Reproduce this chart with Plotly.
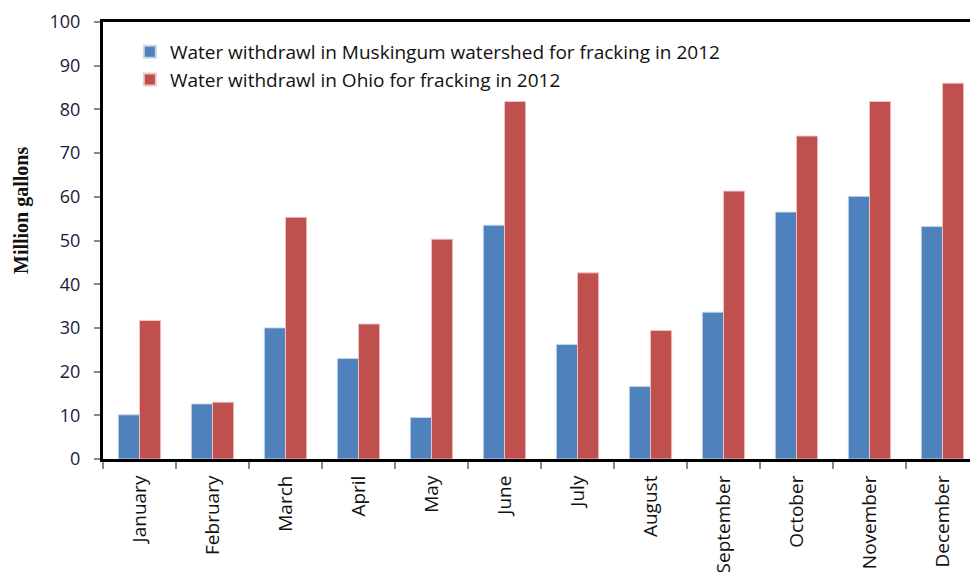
import plotly.graph_objects as go

months = ["January", "February", "March", "April", "May", "June", "July",
          "August", "September", "October", "November", "December"]
muskingum = [10.1, 12.6, 30.0, 23.0, 9.5, 53.5, 26.2, 16.6, 33.6, 56.5, 60.1, 53.2]
ohio = [31.7, 13.0, 55.3, 30.9, 50.3, 81.8, 42.6, 29.4, 61.3, 73.9, 81.8, 86.0]
yticks = [0, 10, 20, 30, 40, 50, 60, 70, 80, 90, 100]

FONT = "Open Sans, Lato, sans-serif"

fig = go.Figure()
fig.add_trace(go.Bar(x=months, y=muskingum,
                     name="Water withdrawl in Muskingum watershed for fracking in 2012",
                     marker=dict(color="#4F81BD", line=dict(color="rgba(200,215,235,0.9)", width=1))))
fig.add_trace(go.Bar(x=months, y=ohio,
                     name="Water withdrawl in Ohio for fracking in 2012",
                     marker=dict(color="#C0504D", line=dict(color="rgba(240,200,200,0.9)", width=1))))

fig.update_layout(
    width=970, height=572,
    margin=dict(l=103, r=0, t=22, b=113, autoexpand=False),
    paper_bgcolor="white", plot_bgcolor="white",
    barmode="group", bargap=0.42, bargroupgap=0,
    showlegend=True,
    legend=dict(x=0.031, y=0.975, xanchor="left", yanchor="top",
                font=dict(family=FONT, size=19, color="#111111"),
                bgcolor="rgba(0,0,0,0)", itemsizing="constant"),
    font=dict(family=FONT, color="#111111"),
    annotations=[dict(text="<b>Million gallons</b>", xref="paper", yref="paper",
                      x=-103 / 867 + 21 / 867, y=(459 - 211) / 437,
                      xanchor="center", yanchor="middle", textangle=-90, showarrow=False,
                      font=dict(family="Liberation Serif, serif", size=20, color="#111111"))],
)

fig.update_xaxes(
    type="category", range=[-0.5, 11.377], automargin=False,
    showline=True, linecolor="black", linewidth=3, mirror=True,
    ticks="outside", tickson="boundaries", ticklen=7, tickcolor="#888888", tickwidth=2,
    tickangle=-90, tickfont=dict(family=FONT, size=19, color="#111111"),
    ticklabelstandoff=6,
    showgrid=False,
)
fig.update_yaxes(
    range=[0, 100], tickvals=yticks, automargin=False,
    showline=True, linecolor="black", linewidth=3,
    ticks="outside", ticklen=6, tickcolor="#888888", tickwidth=2,
    tickfont=dict(family=FONT, size=18, color="#1a1a3a"),
    ticklabelstandoff=10,
    showgrid=False, zeroline=False,
)

fig.write_html("out.html", config={"displayModeBar": False},
               post_script="document.body.style.margin='0';")
